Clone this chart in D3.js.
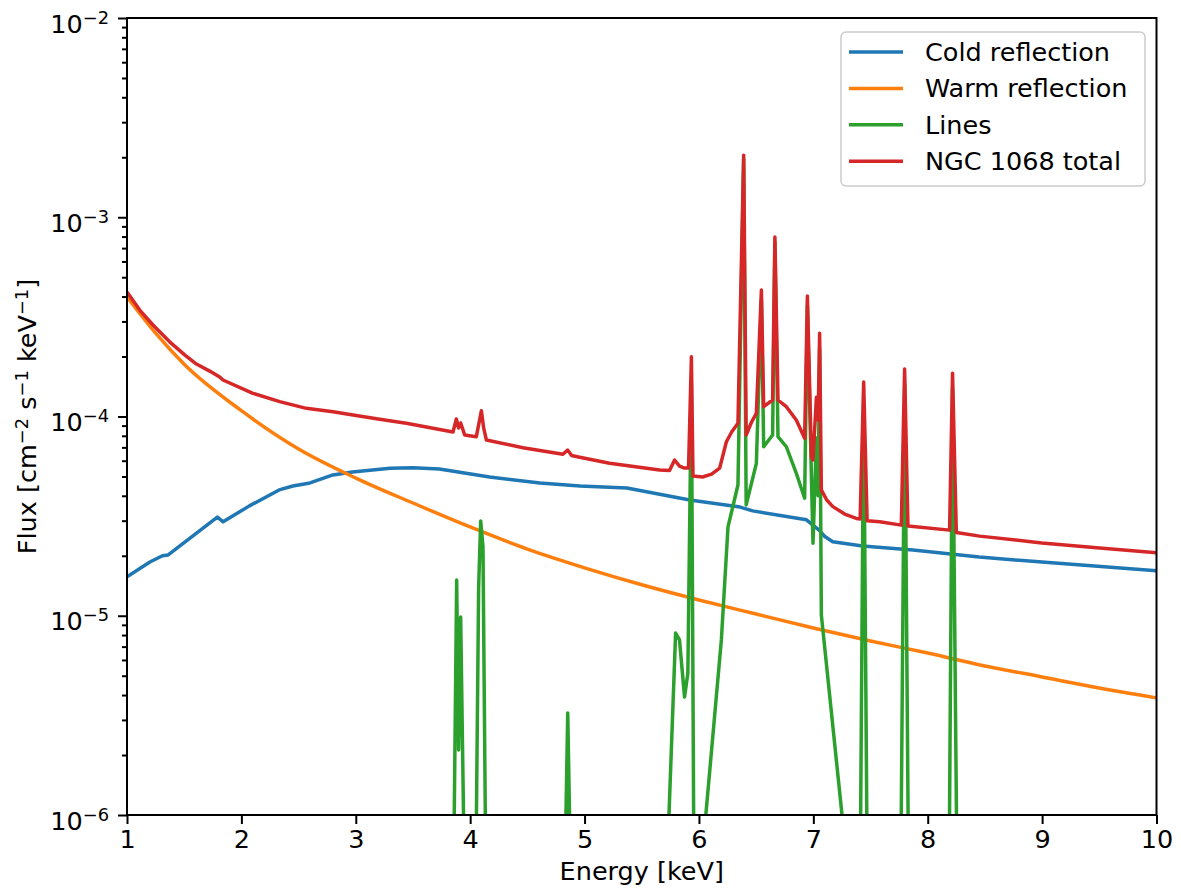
<!DOCTYPE html>
<html lang="en">
<head>
    <meta charset="UTF-8">
    <title>NGC 1068 spectrum</title>
    <script src="https://d3js.org/d3.v7.min.js"></script>
    <style>
        body { margin: 0; background: #fff; }
        text { font-family: "DejaVu Sans", sans-serif; fill: #000; }
    </style>
</head>
<body>
    <div id="chart"></div>

    <script>
        // energies in keV, fluxes in cm^-2 s^-1 keV^-1
        const warmE = [1, 1.25, 1.5, 2, 2.5, 3, 3.5, 4, 4.5, 5, 5.5, 6, 6.5, 7, 7.5, 8, 8.5, 9, 9.5, 10];
        const warmFlux = [3.98e-4, 2.62e-4, 1.83e-4, 1.07e-4, 6.87e-5, 4.91e-5, 3.68e-5, 2.79e-5, 2.16e-5, 1.74e-5,
            1.43e-5, 1.20e-5, 1.02e-5, 8.68e-6, 7.47e-6, 6.50e-6, 5.60e-6, 4.93e-6, 4.34e-6, 3.87e-6];

        const coldE = [1.00, 1.20, 1.31, 1.36, 1.79, 1.84, 2.07, 2.33, 2.45, 2.60, 2.80, 2.97, 3.30, 3.50, 3.73, 4.17,
            4.61, 4.96, 5.37, 5.92, 6.36, 6.47, 6.94, 7.05, 7.10, 7.17, 7.43, 7.87, 8.45, 9.00, 10.0];
        const coldFlux = [1.57e-5, 1.86e-5, 2.00e-5, 2.02e-5, 3.13e-5, 2.96e-5, 3.56e-5, 4.28e-5, 4.48e-5, 4.64e-5,
            5.09e-5, 5.27e-5, 5.50e-5, 5.53e-5, 5.45e-5, 4.97e-5, 4.64e-5, 4.48e-5, 4.38e-5, 3.81e-5, 3.51e-5, 3.36e-5,
            3.03e-5, 2.69e-5, 2.50e-5, 2.35e-5, 2.24e-5, 2.14e-5, 1.97e-5, 1.86e-5, 1.68e-5];

        // 9e-7 marks where the line drops below the bottom of the axes
        const linesE = [1.0, 3.860, 3.882, 3.899, 3.917, 3.943, 4.054, 4.074, 4.092, 4.112, 4.133,
            4.836, 4.853, 4.870, 5.735, 5.796, 5.830, 5.874, 5.903, 5.934, 5.954,
            6.053, 6.196, 6.254, 6.341, 6.391, 6.413, 6.502, 6.546, 6.566, 6.644, 6.664, 6.691, 6.764, 6.851,
            6.924, 6.948, 6.997, 7.027, 7.042, 7.055, 7.070, 7.259,
            7.413, 7.440, 7.468, 7.768, 7.799, 7.829, 8.190, 8.217, 8.252, 10.0];
        const linesFlux = [9e-7, 9e-7, 1.51e-5, 2.12e-6, 9.86e-6, 9e-7, 9e-7, 1.39e-5, 2.99e-5, 2.22e-5, 9e-7,
            9e-7, 3.25e-6, 9e-7, 9e-7, 8.19e-6, 7.56e-6, 3.91e-6, 5.14e-6, 1.46e-4, 9e-7,
            9e-7, 7.56e-6, 2.79e-5, 4.53e-5, 1.96e-3, 3.60e-5, 5.82e-5, 3.85e-4, 7.05e-5, 8.07e-5, 7.50e-4, 7.92e-5, 7.05e-5, 5.19e-5,
            3.89e-5, 3.60e-4, 2.31e-5, 7.80e-5, 4.00e-5, 2.20e-4, 1.01e-5, 9e-7,
            9e-7, 1.19e-4, 9e-7, 9e-7, 1.45e-4, 9e-7, 9e-7, 1.38e-4, 9e-7, 9e-7];

        const totalE = [1.00, 1.111, 1.227, 1.373, 1.504, 1.607, 1.723, 1.810, 1.839, 2.101, 2.335, 2.568, 2.801, 2.976, 3.209, 3.442,
            3.850, 3.879, 3.899, 3.917, 3.952, 4.054, 4.074, 4.098, 4.118, 4.142, 4.462, 4.811, 4.852, 4.887, 4.957,
            5.219, 5.656, 5.743, 5.787, 5.830, 5.874, 5.909, 5.934, 5.948, 6.032, 6.111, 6.181, 6.240, 6.286, 6.341,
            6.391, 6.413, 6.460, 6.502, 6.546, 6.566, 6.644, 6.664, 6.691, 6.764, 6.851, 6.924, 6.948, 6.983, 6.997,
            7.027, 7.042, 7.055, 7.070, 7.117, 7.171, 7.274, 7.376, 7.409, 7.440, 7.470, 7.580, 7.769, 7.798, 7.827,
            8.191, 8.217, 8.250, 8.454, 8.996, 9.503, 10.0];
        const totalFlux = [4.22e-4, 3.42e-4, 2.88e-4, 2.37e-4, 2.04e-4, 1.834e-4, 1.69e-4, 1.58e-4, 1.525e-4, 1.307e-4, 1.187e-4, 1.099e-4, 1.057e-4,
            1.017e-4, 9.68e-5, 9.25e-5, 8.36e-5, 9.72e-5, 8.76e-5, 9.28e-5, 8.07e-5, 7.92e-5, 9.07e-5, 1.069e-4,
            8.76e-5, 7.62e-5, 6.97e-5, 6.46e-5, 6.79e-5, 6.37e-5, 6.24e-5, 5.82e-5, 5.39e-5, 5.36e-5, 6.05e-5,
            5.64e-5, 5.51e-5, 5.51e-5, 1.995e-4, 5.03e-5, 4.97e-5, 5.14e-5, 5.51e-5, 7.47e-5, 8.36e-5, 9.25e-5,
            2.05e-3, 8.07e-5, 9.38e-5, 1.038e-4, 4.31e-4, 1.12e-4, 1.21e-4, 7.96e-4, 1.21e-4, 1.12e-4, 9.61e-5,
            7.77e-5, 4.02e-4, 6.28e-5, 6.05e-5, 1.25e-4, 9.61e-5, 2.62e-4, 4.28e-5, 3.81e-5, 3.53e-5, 3.24e-5,
            3.08e-5, 3.06e-5, 1.49e-4, 3.00e-5, 2.96e-5, 2.85e-5, 1.73e-4, 2.82e-5, 2.69e-5, 1.65e-4, 2.62e-5,
            2.51e-5, 2.32e-5, 2.19e-5, 2.07e-5];

        const seriesNames = ["Cold reflection", "Warm reflection", "Lines", "NGC 1068 total"];
        const seriesColors = ["#1f77b4", "#ff7f0e", "#2ca02c", "#d62728"];
        const xTicks = [1, 2, 3, 4, 5, 6, 7, 8, 9, 10];
        const yMajor = [1e-6, 1e-5, 1e-4, 1e-3, 1e-2];

        const fontSize = 25.5;
        const plotLeft = 127, plotRight = 1156.5, plotTop = 18, plotBottom = 815;

        const svg = d3.select("#chart").append("svg")
            .attr("width", 1181)
            .attr("height", 890);

        svg.append("rect").attr("width", 1181).attr("height", 890).attr("fill", "#fff");

        const x = d3.scaleLinear().domain([1, 10]).range([plotLeft, plotRight]);
        const y = d3.scaleLog().domain([1e-6, 1e-2]).range([plotBottom, plotTop]);

        svg.append("clipPath").attr("id", "plotArea")
            .append("rect")
            .attr("x", plotLeft).attr("y", plotTop)
            .attr("width", plotRight - plotLeft).attr("height", plotBottom - plotTop);

        const line = d3.line()
            .x(d => x(d[0]))
            .y(d => y(d[1]));

        const series = [
            d3.zip(coldE, coldFlux),
            d3.zip(warmE, warmFlux),
            d3.zip(linesE, linesFlux),
            d3.zip(totalE, totalFlux)
        ];

        series.forEach((data, i) => {
            svg.append("path")
                .datum(data)
                .attr("clip-path", "url(#plotArea)")
                .attr("fill", "none")
                .attr("stroke", seriesColors[i])
                .attr("stroke-width", 3.5)
                .attr("stroke-linejoin", "round")
                .attr("d", i === 1 ? line.curve(d3.curveMonotoneX)(data) : line.curve(d3.curveLinear)(data));
        });

        // x axis
        const xAxisG = svg.append("g")
            .attr("transform", `translate(0,${plotBottom})`)
            .call(d3.axisBottom(x).tickValues(xTicks).tickSize(9).tickPadding(6).tickFormat(d3.format("d")));
        xAxisG.select(".domain").remove();

        // y axis, minor ticks first
        const yMinor = y.ticks().filter(v => !yMajor.some(m => Math.abs(m - v) / m < 1e-6));
        const yMinorG = svg.append("g")
            .attr("transform", `translate(${plotLeft},0)`)
            .call(d3.axisLeft(y).tickValues(yMinor).tickSize(5).tickFormat(""));
        yMinorG.select(".domain").remove();

        const yAxisG = svg.append("g")
            .attr("transform", `translate(${plotLeft},0)`)
            .call(d3.axisLeft(y).tickValues(yMajor).tickSize(9).tickPadding(9).tickFormat(() => ""));
        yAxisG.select(".domain").remove();

        yAxisG.selectAll(".tick text").each(function(d) {
            const t = d3.select(this);
            const e = Math.round(Math.log10(d));
            t.attr("dy", "0.55em");
            t.append("tspan").text("10");
            t.append("tspan").attr("dy", -9).attr("font-size", fontSize * 0.7).text("\u2212" + (-e));
        });

        svg.selectAll(".tick line").attr("stroke", "#000").attr("stroke-width", 2);
        svg.selectAll(".tick text")
            .attr("font-size", fontSize)
            .attr("font-family", "DejaVu Sans")
            .attr("fill", "#000");

        // frame
        svg.append("rect")
            .attr("x", plotLeft).attr("y", plotTop)
            .attr("width", plotRight - plotLeft).attr("height", plotBottom - plotTop)
            .attr("fill", "none")
            .attr("stroke", "#000")
            .attr("stroke-width", 2);

        // axis labels
        svg.append("text")
            .attr("x", (plotLeft + plotRight) / 2)
            .attr("y", 880)
            .attr("text-anchor", "middle")
            .attr("font-size", fontSize)
            .text("Energy [keV]");

        const yLabel = svg.append("text")
            .attr("transform", `translate(35.5,${(plotTop + plotBottom) / 2}) rotate(-90)`)
            .attr("text-anchor", "middle")
            .attr("font-size", fontSize);
        const labelParts = [["Flux [cm", false], ["\u22122", true], [" s", false], ["\u22121", true], [" keV", false], ["\u22121", true], ["]", false]];
        labelParts.forEach(([txt, sup], i) => {
            const prevSup = i > 0 && labelParts[i - 1][1];
            yLabel.append("tspan")
                .attr("dy", sup ? -8 : (prevSup ? 8 : 0))
                .attr("font-size", sup ? fontSize * 0.7 : fontSize)
                .text(txt);
        });

        // legend
        const legend = svg.append("g");
        legend.append("rect")
            .attr("x", 841).attr("y", 32)
            .attr("width", 304).attr("height", 154)
            .attr("rx", 5)
            .attr("fill", "#fff").attr("fill-opacity", 0.8)
            .attr("stroke", "#cccccc").attr("stroke-width", 1.5);

        seriesNames.forEach((name, i) => {
            const ly = 52 + i * 36.4;
            legend.append("line")
                .attr("x1", 849).attr("x2", 903)
                .attr("y1", ly).attr("y2", ly)
                .attr("stroke", seriesColors[i])
                .attr("stroke-width", 3.5);
            legend.append("text")
                .attr("x", 925).attr("y", ly + 9)
                .attr("font-size", fontSize)
                .text(name);
        });
    </script>
</body>
</html>
